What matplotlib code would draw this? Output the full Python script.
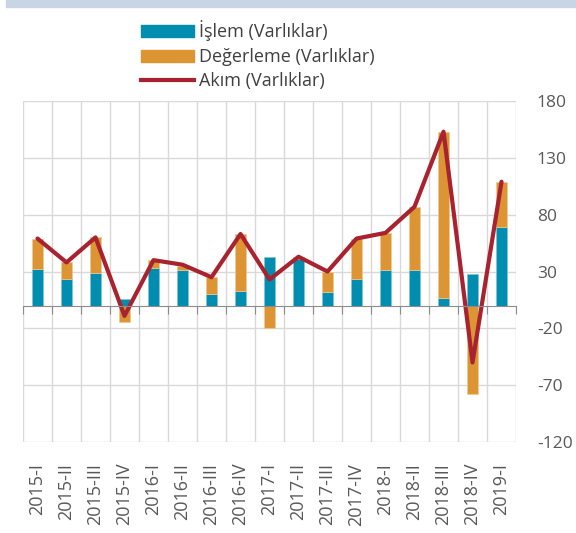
import matplotlib.pyplot as plt
import numpy as np
from matplotlib.patches import Rectangle, Patch
from matplotlib.lines import Line2D

plt.rcParams['font.family'] = ['Open Sans', 'DejaVu Sans']
plt.rcParams['axes.unicode_minus'] = False

quarters = ['2015-I', '2015-II', '2015-III', '2015-IV', '2016-I', '2016-II',
            '2016-III', '2016-IV', '2017-I', '2017-II', '2017-III', '2017-IV',
            '2018-I', '2018-II', '2018-III', '2018-IV', '2019-I']
islem = [32, 23, 29, 6, 33, 31, 10, 13, 43, 41, 12, 23, 31, 31, 7, 28, 69]
degerleme = [27, 15, 31, -14, 7, 4, 15, 50, -20, 2, 18, 36, 33, 56, 146, -78, 40]
akim = [59, 38, 60, -9, 40, 36, 25, 63, 23, 43, 30, 59, 64, 87, 153, -50, 109]
yticks = [180, 130, 80, 30, -20, -70, -120]

teal = '#008DAF'
orange = '#DD9433'
red = '#A8232F'
grey_txt = '#595959'

fig = plt.figure(figsize=(5.76, 5.33), dpi=100)
ax = fig.add_axes([0.0399, 0.1707, 0.856, 0.6398])

# band at the top of the picture
fig.patches.append(Rectangle((6 / 576, 1 - 7.4 / 533), 1, 7.4 / 533,
                             transform=fig.transFigure, color='#C8D5E5', zorder=0))

x = np.arange(len(quarters))
isl = np.array(islem)
deg = np.array(degerleme)
# stack: positive valuations on top of islem, negative ones below zero
bottom_deg = np.where(deg >= 0, np.maximum(isl, 0), np.minimum(isl, 0))

ax.bar(x, isl, width=0.4, color=teal, edgecolor='#7FC6D7', linewidth=0.5, zorder=3)
ax.bar(x, deg, width=0.4, bottom=bottom_deg, color=orange, edgecolor='#EEC999',
       linewidth=0.5, zorder=3)
ax.plot(x, akim, color=red, lw=3, solid_capstyle='round', zorder=4)

ax.set_xlim(-0.5, len(quarters) - 0.5)
ax.set_ylim(-120, 180)

# grid
ax.set_yticks(yticks)
ax.yaxis.tick_right()
ax.tick_params(axis='y', length=0, pad=15, labelsize=12.5, labelcolor=grey_txt)
ax.grid(axis='y', color='#D9D9D9', lw=1, zorder=0)
for b in np.arange(-0.5, len(quarters), 1):
    ax.axvline(b, color='#D9D9D9', lw=1, zorder=0)

for s in ['top', 'left', 'right']:
    ax.spines[s].set_visible(False)
ax.spines['bottom'].set_position(('data', 0))
ax.spines['bottom'].set_color('#8C8C8C')
ax.spines['bottom'].set_zorder(5)
ax.set_xticks(np.arange(-0.5, len(quarters), 1))
ax.set_xticklabels([])
ax.tick_params(axis='x', length=6, color='#8C8C8C', direction='out')

sec = ax.secondary_xaxis('bottom')
sec.set_xticks(x)
sec.set_xticklabels(quarters, rotation=90)
sec.tick_params(length=0, pad=15, labelsize=13, labelcolor=grey_txt)
sec.spines['bottom'].set_visible(False)

handles = [Patch(color=teal), Patch(color=orange), Line2D([], [], color=red, lw=3)]
labels = ['İşlem (Varlıklar)', 'Değerleme (Varlıklar)', 'Akım (Varlıklar)']
fig.legend(handles, labels, loc='upper left', bbox_to_anchor=(0.217, 0.992),
           frameon=False, fontsize=13, labelcolor='#404040', handlelength=2.9,
           handleheight=0.65, handletextpad=0.28, labelspacing=0.36)

fig.savefig('out.png', dpi=100)
